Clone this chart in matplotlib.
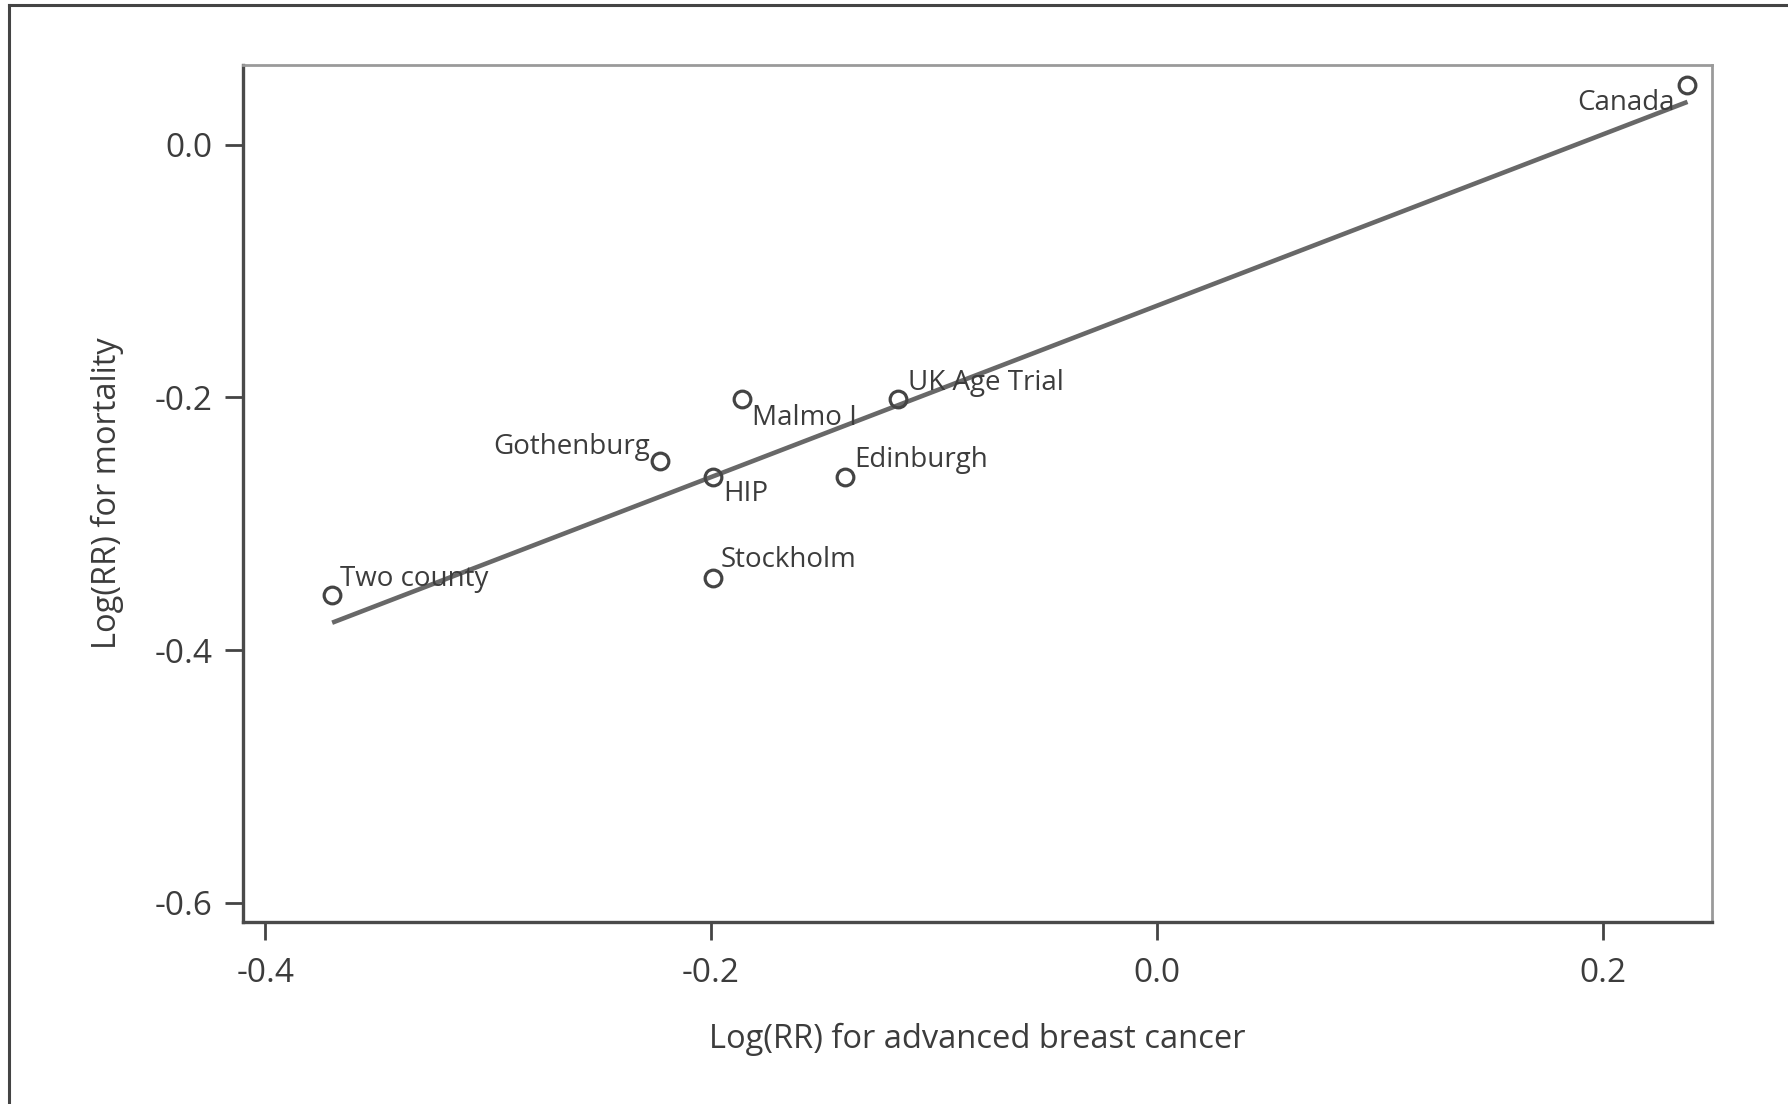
import numpy as np
import matplotlib
matplotlib.use("Agg")
import matplotlib.pyplot as plt
from matplotlib.lines import Line2D

# =========================
# 1. DATA
# =========================
studies = ["Canada", "UK Age Trial", "Malmo I", "Gothenburg",
           "HIP", "Edinburgh", "Stockholm", "Two county"]
log_rr_advanced = [0.238, -0.116, -0.186, -0.223, -0.199, -0.140, -0.199, -0.370]
log_rr_mortality = [0.047, -0.201, -0.201, -0.250, -0.263, -0.263, -0.343, -0.356]

x_ticks = [-0.4, -0.2, 0.0, 0.2]
y_ticks = [-0.6, -0.4, -0.2, 0.0]

# label offsets in points (dx, dy) and horizontal alignment
label_pos = {
    "Canada": (-9, -13, "right"),
    "UK Age Trial": (7, 11, "left"),
    "Malmo I": (7, -14, "left"),
    "Gothenburg": (-7, 10, "right"),
    "HIP": (7, -12, "left"),
    "Edinburgh": (7, 12, "left"),
    "Stockholm": (5, 13, "left"),
    "Two county": (6, 11, "left"),
}

plt.rcParams["font.family"] = ["Open Sans", "DejaVu Sans"]
text_col = "#3c3c3c"

# =========================
# 2. PLOT
# =========================
fig = plt.figure(figsize=(17.88, 11.04), dpi=100)
ax = fig.add_axes([0.1359, 0.1649, 0.8216, 0.7763])

x = np.array(log_rr_advanced)
y = np.array(log_rr_mortality)

# least squares fit line
slope, intercept = np.polyfit(x, y, 1)
xs = np.array([x.min(), x.max()])
ax.plot(xs, slope * xs + intercept, color="#686868", lw=3.3, solid_capstyle="butt", zorder=2)

ax.plot(x, y, "o", ms=12, mfc="none", mec="#444444", mew=2.3, zorder=3)

for name, xi, yi in zip(studies, x, y):
    dx, dy, ha = label_pos[name]
    ax.annotate(name, (xi, yi), xytext=(dx, dy), textcoords="offset points",
                ha=ha, va="center", fontsize=20, color=text_col, zorder=4)

ax.set_xlim(-0.41, 0.249)
ax.set_ylim(-0.615, 0.063)
ax.set_xticks(x_ticks)
ax.set_yticks(y_ticks)
ax.set_xticklabels([f"{t:.1f}" for t in x_ticks])
ax.set_yticklabels([f"{t:.1f}" for t in y_ticks])
ax.tick_params(axis="both", direction="out", length=13, width=2, color="#444444",
               labelsize=24, labelcolor=text_col, pad=9)
ax.tick_params(axis="x", pad=12)

for side in ["left", "bottom"]:
    ax.spines[side].set_color("#4a4a4a")
    ax.spines[side].set_linewidth(2.4)
for side in ["top", "right"]:
    ax.spines[side].set_color("#9a9a9a")
    ax.spines[side].set_linewidth(2.0)

ax.set_xlabel("Log(RR) for advanced breast cancer", fontsize=23.5, color=text_col, labelpad=24)
ax.set_ylabel("Log(RR) for mortality", fontsize=23.5, color=text_col, labelpad=22)

# outer frame (left and top edges only)
fig.add_artist(Line2D([9 / 1788, 9 / 1788], [0, 1 - 5 / 1104], transform=fig.transFigure,
                      color="#444444", lw=2.2))
fig.add_artist(Line2D([9 / 1788, 1], [1 - 5 / 1104, 1 - 5 / 1104], transform=fig.transFigure,
                      color="#444444", lw=2.2))

fig.savefig("out.png", dpi=100)
